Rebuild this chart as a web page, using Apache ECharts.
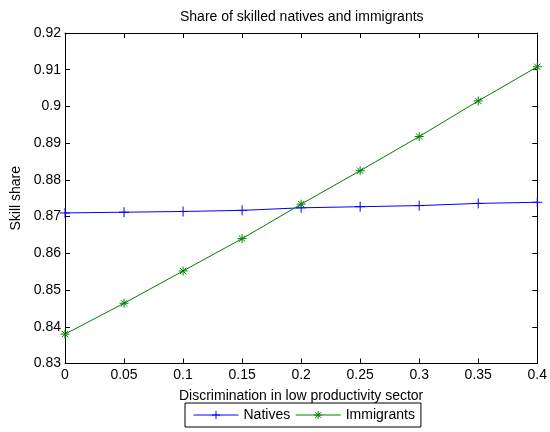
<!DOCTYPE html>
<html>
<head>
<meta charset="utf-8">
<script src="https://cdn.jsdelivr.net/npm/echarts@6/dist/echarts.min.js"></script>
<style>html,body{margin:0;padding:0;background:#fff}#c{width:550px;height:432px}</style>
</head>
<body>
<div id="c"></div>
<script>
const xValues = [0, 0.05, 0.1, 0.15, 0.2, 0.25, 0.3, 0.35, 0.4];
const natives = [0.8710, 0.8712, 0.8714, 0.8717, 0.8724, 0.8727, 0.8730, 0.8736, 0.8739];
const immigrants = [0.8380, 0.8464, 0.8552, 0.8640, 0.8734, 0.8825, 0.8918, 0.9015, 0.9108];
const titleText = 'Share of skilled natives and immigrants';
const xLabel = 'Discrimination in low productivity sector';
const yLabel = 'Skill share';

const FONT = 'Liberation Sans, Arial, sans-serif';
const FS = 14;
const plusPath = 'path://M0,5L10,5M5,0L5,10';
const starPath = 'path://M0,5L10,5M5,0L5,10M1.5,1.5L8.5,8.5M1.5,8.5L8.5,1.5';

const chart = echarts.init(document.getElementById('c'), null, {renderer: 'canvas'});
const axCommon = {
  axisLine: {show: true, onZero: false, lineStyle: {color: '#000', width: 1}},
  axisTick: {show: true, inside: true, length: 5, lineStyle: {color: '#000'}},
  splitLine: {show: false}
};
chart.setOption({
  animation: false,
  backgroundColor: '#fff',
  textStyle: {fontFamily: FONT},
  title: {
    text: titleText, left: 175, top: 5,
    textStyle: {fontSize: FS, fontWeight: 'normal', color: '#000', fontFamily: FONT}
  },
  grid: {left: 65, right: 10, top: 33, bottom: 68.5, containLabel: false},
  legend: {
    left: 185, top: 403,
    borderColor: '#000', borderWidth: 1,
    padding: [5, 6, 5, 8],
    itemWidth: 45, itemHeight: 10, itemGap: 5,
    lineStyle: {width: 1},
    itemStyle: {borderWidth: 1},
    textStyle: {fontSize: FS, color: '#000', fontFamily: FONT},
    data: ['Natives', 'Immigrants']
  },
  xAxis: [
    Object.assign({}, axCommon, {
      type: 'value', min: 0, max: 0.4, interval: 0.05, position: 'bottom',
      name: xLabel, nameLocation: 'middle', nameGap: 26,
      nameTextStyle: {fontSize: FS, color: '#000', fontFamily: FONT},
      axisLabel: {fontSize: FS, color: '#000', margin: 5, fontFamily: FONT}
    }),
    Object.assign({}, axCommon, {
      type: 'value', min: 0, max: 0.4, interval: 0.05, position: 'top',
      axisLabel: {show: false}
    })
  ],
  yAxis: [
    Object.assign({}, axCommon, {
      type: 'value', min: 0.83, max: 0.92, interval: 0.01, position: 'left',
      name: yLabel, nameLocation: 'middle', nameGap: 42, nameRotate: 90,
      nameTextStyle: {fontSize: FS, color: '#000', fontFamily: FONT},
      axisLabel: {fontSize: FS, color: '#000', margin: 4, fontFamily: FONT,
        formatter: v => String(parseFloat(v.toFixed(4)))}
    }),
    Object.assign({}, axCommon, {
      type: 'value', min: 0.83, max: 0.92, interval: 0.01, position: 'right',
      axisLabel: {show: false}
    })
  ],
  series: [
    {
      name: 'Natives', type: 'line', xAxisIndex: 0, yAxisIndex: 0,
      data: xValues.map((x, i) => [x, natives[i]]),
      symbol: plusPath, symbolSize: 10, symbolKeepAspect: true, showAllSymbol: true,
      lineStyle: {color: '#0000ff', width: 1},
      itemStyle: {color: '#0000ff', borderColor: '#0000ff', borderWidth: 1},
      clip: false
    },
    {
      name: 'Immigrants', type: 'line', xAxisIndex: 0, yAxisIndex: 0,
      data: xValues.map((x, i) => [x, immigrants[i]]),
      symbol: starPath, symbolSize: 9, symbolKeepAspect: true, showAllSymbol: true,
      lineStyle: {color: '#008000', width: 1},
      itemStyle: {color: '#008000', borderColor: '#008000', borderWidth: 1},
      clip: false
    }
  ]
});
</script>
</body>
</html>
